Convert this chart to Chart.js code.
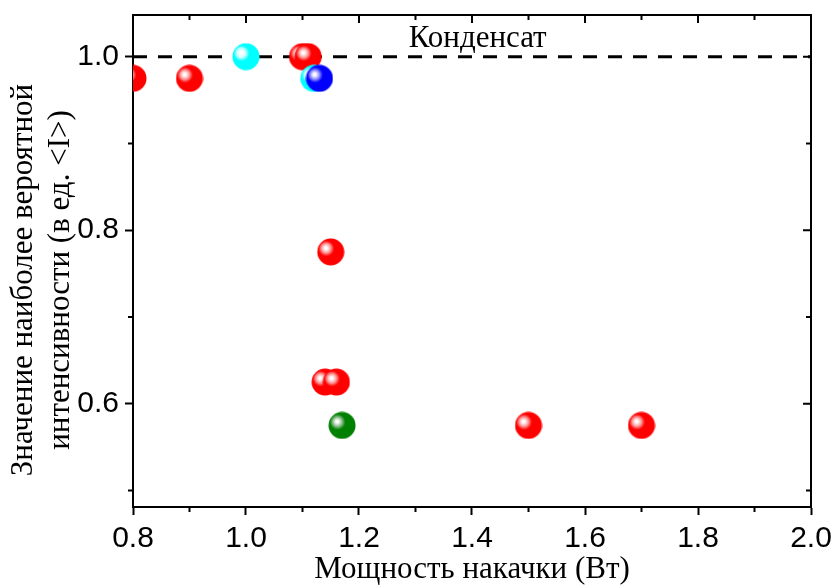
<!DOCTYPE html>
<html>
<head>
<meta charset="utf-8">
<script src="https://cdn.jsdelivr.net/npm/chart.js@4"></script>
<style>
  html, body { margin: 0; padding: 0; background: #fff; }
</style>
</head>
<body>
<canvas id="chart" width="833" height="585"></canvas>
<script>
// data
const redX = [0.8, 0.9, 1.1, 1.11, 1.15, 1.14, 1.16, 1.5, 1.7];
const redY = [0.975, 0.975, 1.0, 1.0, 0.775, 0.625, 0.625, 0.575, 0.575];
const cyanX = [1.0, 1.12];
const cyanY = [1.0, 0.975];
const blueX = [1.13];
const blueY = [0.975];
const greenX = [1.17];
const greenY = [0.575];
const condensateLevel = 1.0;
const condensateLabelX = 1.41;

const xTicks = [0.8, 1.0, 1.2, 1.4, 1.6, 1.8, 2.0];
const xMinor = [0.9, 1.1, 1.3, 1.5, 1.7, 1.9];
const yTicks = [0.6, 0.8, 1.0];
const yMinor = [0.5, 0.7, 0.9];

const xTitle = 'Мощность накачки (Вт)';
const yTitle = ['Значение наиболее вероятной', 'интенсивности (в ед. <I>)'];
const condensateLabel = 'Конденсат';

const serif = '"Liberation Serif", "Times New Roman", serif';
const sans = '"Liberation Sans", Arial, sans-serif';

function pts(xs, ys) {
    return xs.map((x, i) => ({x: x, y: ys[i]}));
}

// shaded ball marker like the original plot
function sphere(color, light) {
    const c = document.createElement('canvas');
    c.width = 28;
    c.height = 28;
    const g = c.getContext('2d');
    const grad = g.createRadialGradient(9, 10, 0, 10, 11, 13);
    grad.addColorStop(0, '#ffffff');
    grad.addColorStop(0.1, '#ffffff');
    grad.addColorStop(0.35, light);
    grad.addColorStop(0.6, color);
    grad.addColorStop(1, color);
    g.fillStyle = grad;
    g.beginPath();
    g.arc(14, 14, 13.5, 0, Math.PI * 2);
    g.fill();
    return c;
}

function ballSet(xs, ys, color, light, order) {
    return {
        type: 'scatter',
        data: pts(xs, ys),
        pointStyle: sphere(color, light),
        pointRadius: 14,
        clip: 0,
        order: order,
    };
}

const frame = {
    id: 'frame',
    beforeDatasetsDraw(chart) {
        const {ctx, chartArea: a, scales: {x, y}} = chart;
        ctx.save();
        ctx.strokeStyle = '#000';
        ctx.lineWidth = 2;
        ctx.beginPath();
        ctx.moveTo(a.left, a.top);
        ctx.lineTo(a.right, a.top);
        ctx.lineTo(a.right, a.bottom);
        // mirrored ticks, top and right, pointing inward
        xTicks.forEach(v => { const p = x.getPixelForValue(v); ctx.moveTo(p, a.top); ctx.lineTo(p, a.top + 8); });
        xMinor.forEach(v => { const p = x.getPixelForValue(v); ctx.moveTo(p, a.top); ctx.lineTo(p, a.top + 5); });
        yTicks.forEach(v => { const p = y.getPixelForValue(v); ctx.moveTo(a.right, p); ctx.lineTo(a.right - 8, p); });
        yMinor.forEach(v => { const p = y.getPixelForValue(v); ctx.moveTo(a.right, p); ctx.lineTo(a.right - 5, p); });
        // minor ticks on bottom and left, outward
        xMinor.forEach(v => { const p = x.getPixelForValue(v); ctx.moveTo(p, a.bottom); ctx.lineTo(p, a.bottom + 5); });
        yMinor.forEach(v => { const p = y.getPixelForValue(v); ctx.moveTo(a.left, p); ctx.lineTo(a.left - 5, p); });
        ctx.stroke();
        ctx.restore();
    },
    afterDraw(chart) {
        const {ctx, scales: {x, y}} = chart;
        ctx.save();
        ctx.fillStyle = '#000';
        ctx.font = '31px ' + serif;
        ctx.textAlign = 'center';
        ctx.textBaseline = 'alphabetic';
        ctx.fillText(condensateLabel, x.getPixelForValue(condensateLabelX), y.getPixelForValue(condensateLevel) - 10);

        ctx.translate(0, 280);
        ctx.rotate(-Math.PI / 2);
        ctx.fillText(yTitle[0], 0, 32);
        ctx.fillText(yTitle[1], 0, 69);
        ctx.restore();
    }
};

new Chart(document.getElementById('chart'), {
    data: {
        datasets: [
            {
                type: 'line',
                data: [{x: 0.8, y: condensateLevel}, {x: 2.0, y: condensateLevel}],
                borderColor: '#000',
                borderWidth: 3,
                borderDash: [14, 11],
                pointRadius: 0,
                order: 5,
            },
            ballSet(redX, redY, '#ff0000', '#ff9c9c', 4),
            ballSet(cyanX, cyanY, '#00ffff', '#c8ffff', 3),
            ballSet(blueX, blueY, '#0000ff', '#9090ff', 2),
            ballSet(greenX, greenY, '#008000', '#90c090', 1),
        ],
    },
    options: {
        responsive: false,
        animation: false,
        events: [],
        layout: {
            padding: {top: -3, right: 22, left: 0, bottom: 0},
        },
        plugins: {
            legend: {display: false},
            tooltip: {enabled: false},
        },
        scales: {
            x: {
                type: 'linear',
                min: 0.8,
                max: 2.0,
                afterBuildTicks: s => { s.ticks = xTicks.map(v => ({value: v})); },
                afterFit: s => { s.height = 78; s.paddingLeft = 0; s.paddingRight = 0; },
                border: {color: '#000', width: 2},
                grid: {drawOnChartArea: false, tickLength: 8, tickColor: '#000', tickWidth: 2},
                ticks: {
                    color: '#000',
                    padding: 6,
                    maxRotation: 0,
                    font: {family: sans, size: 30},
                    callback: v => v.toFixed(1),
                },
                title: {
                    display: true,
                    text: xTitle,
                    color: '#000',
                    font: {family: serif, size: 31},
                    padding: {top: 0, bottom: -3},
                },
            },
            y: {
                type: 'linear',
                min: 0.481,
                max: 1.048,
                afterBuildTicks: s => { s.ticks = yTicks.map(v => ({value: v})); },
                afterFit: s => { s.width = 133; s.paddingTop = 0; s.paddingBottom = 0; },
                border: {color: '#000', width: 2},
                grid: {drawOnChartArea: false, tickLength: 8, tickColor: '#000', tickWidth: 2},
                ticks: {
                    color: '#000',
                    padding: 6,
                    font: {family: sans, size: 30},
                    callback: v => v.toFixed(1),
                },
            },
        },
    },
    plugins: [frame],
});
</script>
</body>
</html>
